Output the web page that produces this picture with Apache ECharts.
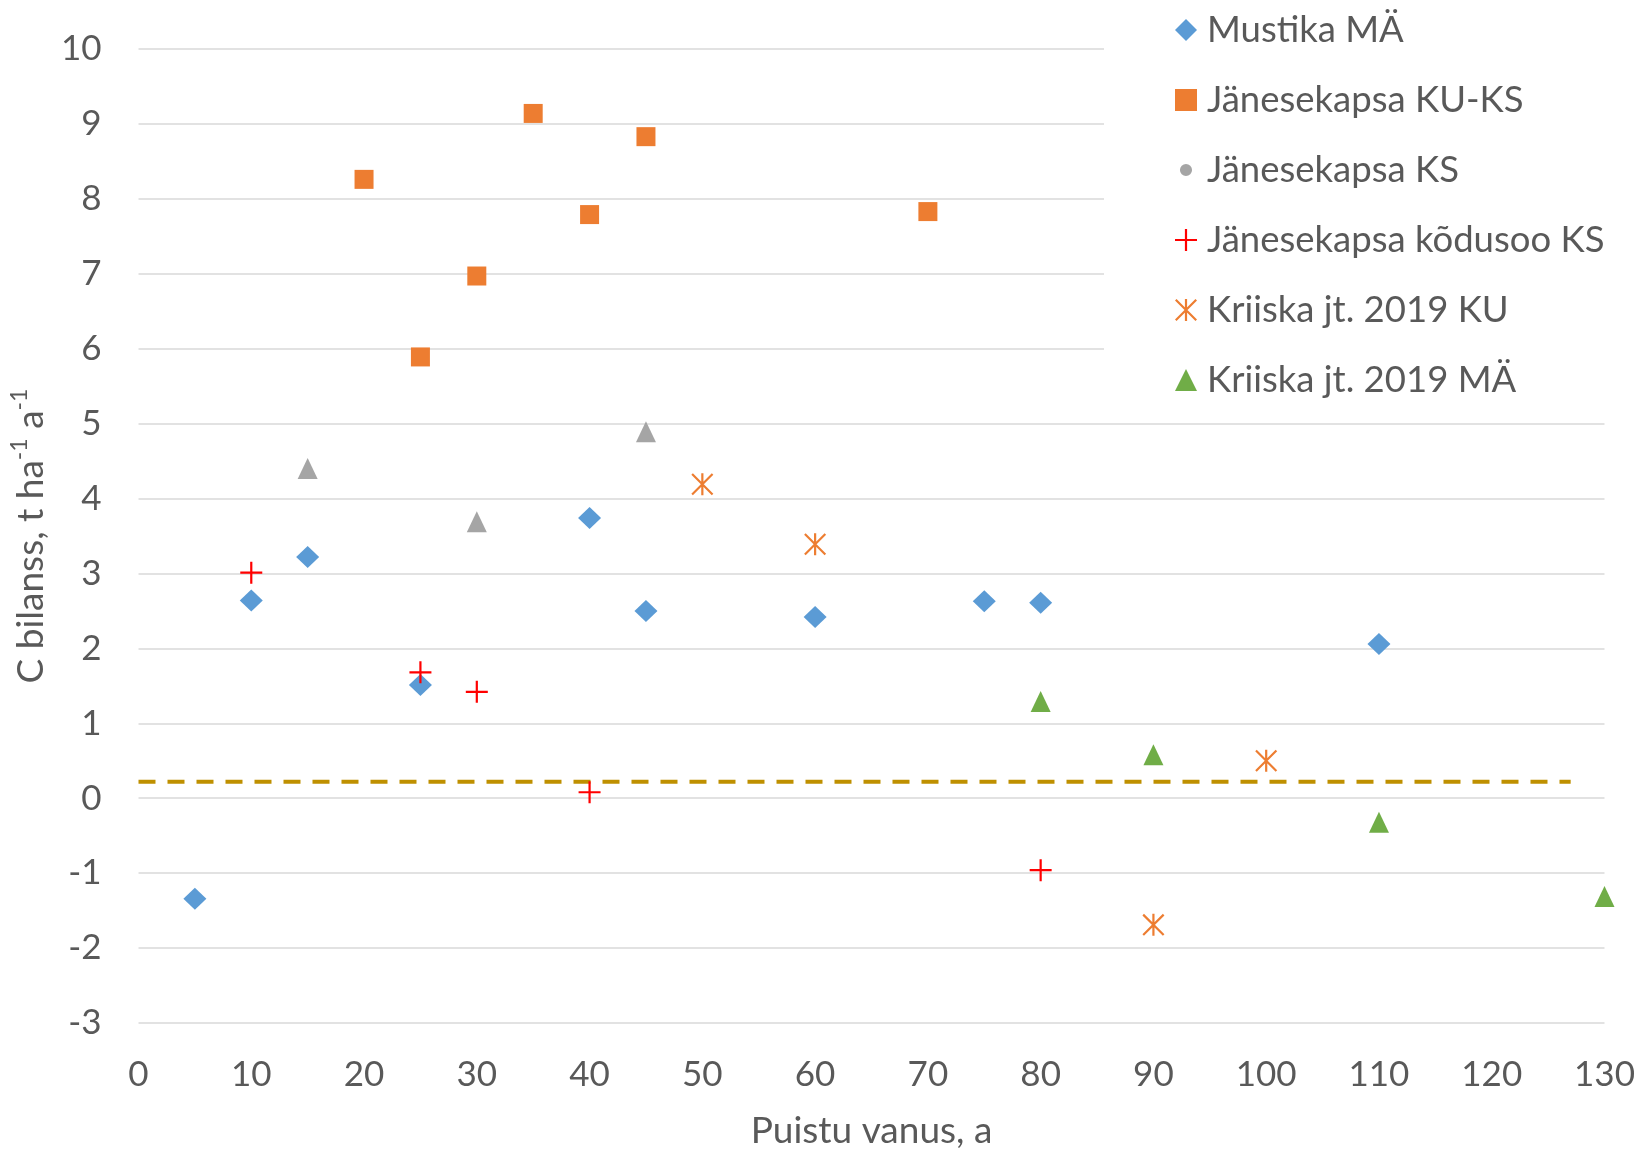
<!DOCTYPE html>
<html>
<head>
<meta charset="utf-8">
<script src="https://cdn.jsdelivr.net/npm/echarts@6/dist/echarts.min.js"></script>
<style>html,body{margin:0;padding:0;background:#fff}#c{width:1641px;height:1155px}</style>
</head>
<body>
<div id="c"></div>
<script>
// Series data (x = stand age, y = C balance)
const mustikaX = [5, 10, 15, 25, 40, 45, 60, 75, 80, 110];
const mustikaY = [-1.34, 2.64, 3.22, 1.51, 3.74, 2.50, 2.42, 2.63, 2.61, 2.06];
const kuksX = [20, 25, 30, 35, 40, 45, 70];
const kuksY = [8.26, 5.89, 6.97, 9.14, 7.79, 8.83, 7.83];
const ksX = [15, 30, 45];
const ksY = [4.40, 3.69, 4.89];
const kodusooX = [10, 25, 30, 40, 80];
const kodusooY = [3.01, 1.68, 1.42, 0.08, -0.96];
const kriiskaKuX = [50, 60, 90, 100];
const kriiskaKuY = [4.19, 3.39, -1.69, 0.50];
const kriiskaMaX = [80, 90, 110, 130];
const kriiskaMaY = [1.29, 0.58, -0.32, -1.31];
const refLineX = [0, 127];
const refLineY = [0.22, 0.22];
const seriesNames = ['Mustika MÄ', 'Jänesekapsa KU-KS', 'Jänesekapsa KS', 'Jänesekapsa kõdusoo KS', 'Kriiska jt. 2019 KU', 'Kriiska jt. 2019 MÄ'];
const xTicks = {min: 0, max: 130, interval: 10};
const yTicks = {min: -3, max: 10, interval: 1};

const pair = (xs, ys) => xs.map((x, i) => [x, ys[i]]);
const FONT = 'Lato';
const TXT = '#595959';

const plusPath = 'path://M0,9 L20,9 L20,11 L0,11 Z M9,0 L11,0 L11,20 L9,20 Z';
const starPath = 'path://M9,0 L11,0 L11,20 L9,20 Z M0,1.4 L1.4,0 L20,18.6 L18.6,20 Z M18.6,0 L20,1.4 L1.4,20 L0,18.6 Z';
const smallCirclePath = 'path://M0,0 L0.05,0 L0,0.05 Z M20,20 L19.95,20 L20,19.95 Z M10,4.5 A5.5,5.5 0 1 1 9.99,4.5 Z';

const chart = echarts.init(document.getElementById('c'), null, {renderer: 'canvas'});
chart.setOption({
  animation: false,
  backgroundColor: '#fff',
  textStyle: {fontFamily: FONT},
  grid: {left: 136, right: 36.5, top: 49, bottom: 126, containLabel: false},
  legend: {
    orient: 'vertical', left: 1104, top: 0,
    backgroundColor: '#fff',
    padding: [10, 20, 10, 71],
    itemWidth: 22, itemHeight: 22, itemGap: 30,
    selectedMode: false,
    textStyle: {fontSize: 36.5, lineHeight: 40, color: TXT, fontFamily: FONT, padding: [0, 0, 0, 5]},
    data: [
      {name: seriesNames[0], icon: 'diamond'},
      {name: seriesNames[1], icon: 'rect'},
      {name: seriesNames[2], icon: smallCirclePath},
      {name: seriesNames[3], icon: plusPath},
      {name: seriesNames[4], icon: starPath},
      {name: seriesNames[5], icon: 'triangle'}
    ]
  },
  xAxis: {
    type: 'value', min: xTicks.min, max: xTicks.max, interval: xTicks.interval,
    axisLine: {show: false}, axisTick: {show: false}, splitLine: {show: false},
    axisLabel: {fontSize: 35, color: TXT, fontFamily: FONT, margin: 34},
    name: 'Puistu vanus, a', nameLocation: 'middle', nameGap: 90,
    nameTextStyle: {fontSize: 37, color: TXT, fontFamily: FONT}
  },
  yAxis: {
    type: 'value', min: yTicks.min, max: yTicks.max, interval: yTicks.interval,
    axisLine: {show: false}, axisTick: {show: false},
    splitLine: {show: true, lineStyle: {color: '#D9D9D9', width: 1.5}},
    axisLabel: {fontSize: 35, color: TXT, fontFamily: FONT, margin: 37},
    name: '{m|C bilanss, t ha}{s|-1}{m| a}{s|-1}', nameLocation: 'middle', nameGap: 88,
    nameTextStyle: {
      fontSize: 37, color: TXT, fontFamily: FONT,
      rich: {
        m: {fontSize: 37, color: TXT, fontFamily: FONT, lineHeight: 42, verticalAlign: 'bottom'},
        s: {fontSize: 23, color: TXT, fontFamily: FONT, lineHeight: 23, verticalAlign: 'top'}
      }
    }
  },
  series: [
    {name: 'ref', type: 'line', data: pair(refLineX, refLineY), symbol: 'none', silent: true,
     lineStyle: {color: '#BF9000', width: 4, type: [17, 12]}, z: 1},
    {name: seriesNames[0], type: 'scatter', data: pair(mustikaX, mustikaY), symbol: 'diamond', symbolSize: [23, 22],
     itemStyle: {color: '#5B9BD5', opacity: 1}, z: 3},
    {name: seriesNames[1], type: 'scatter', data: pair(kuksX, kuksY), symbol: 'rect', symbolSize: [19, 19],
     itemStyle: {color: '#ED7D31', opacity: 1}, z: 3},
    {name: seriesNames[2], type: 'scatter', data: pair(ksX, ksY), symbol: 'triangle', symbolSize: [20, 21],
     itemStyle: {color: '#A5A5A5', opacity: 1}, z: 3},
    {name: seriesNames[3], type: 'scatter', data: pair(kodusooX, kodusooY), symbol: plusPath, symbolSize: [22, 22],
     itemStyle: {color: '#FF0000', opacity: 1}, z: 4},
    {name: seriesNames[4], type: 'scatter', data: pair(kriiskaKuX, kriiskaKuY), symbol: starPath, symbolSize: [22, 22],
     itemStyle: {color: '#ED7D31', opacity: 1}, z: 3},
    {name: seriesNames[5], type: 'scatter', data: pair(kriiskaMaX, kriiskaMaY), symbol: 'triangle', symbolSize: [20, 21],
     itemStyle: {color: '#70AD47', opacity: 1}, z: 3, clip: false}
  ]
});
</script>
</body>
</html>
